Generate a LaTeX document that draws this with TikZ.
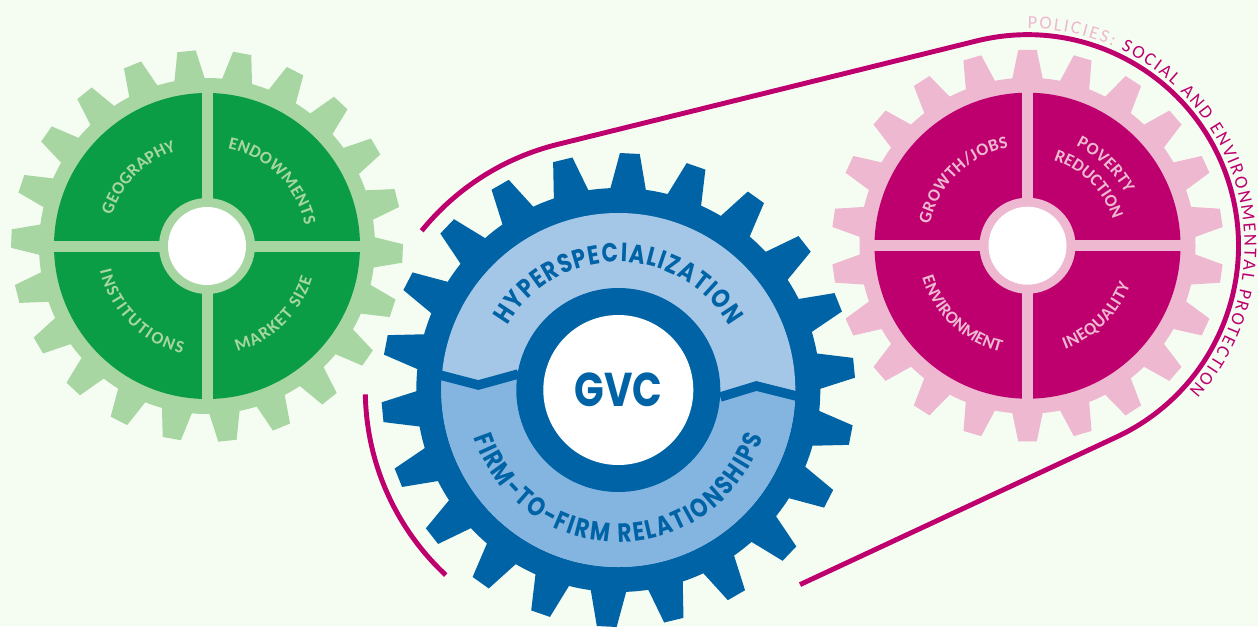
\documentclass[tikz,border=0pt]{standalone}
\usepackage{fontspec}
\usetikzlibrary{calc,decorations.text}

\newfontfamily\cogfont{Carlito}
\newfontfamily\gvcfont{Poppins}[FakeStretch=0.82]

\definecolor{paper}{HTML}{F5FDF2}
\definecolor{greenlight}{HTML}{A8D6A3}
\definecolor{greendark}{HTML}{0B9D45}
\definecolor{pinklight}{HTML}{EDB8D0}
\definecolor{pinkdark}{HTML}{BE006F}
\definecolor{beltred}{HTML}{BE006F}
\definecolor{bluedark}{HTML}{0063A6}
\definecolor{bluetop}{HTML}{A4C7E8}
\definecolor{bluelow}{HTML}{84B5E0}

\tikzset{
	belt/.style={draw=beltred, line width=2.8pt},
	cogtext/.style={decorate, decoration={text along path, text align=fit to path, text={#1}}},
}

\newcommand{\greenlabel}{\cogfont\bfseries\fontsize{10}{12}\selectfont\color{greenlight}}
\newcommand{\pinklabel}{\cogfont\bfseries\fontsize{10}{12}\selectfont\color{pinklight}}
\newcommand{\bluelabel}{\gvcfont\bfseries\fontsize{15}{17}\selectfont\color{bluedark}}
\newcommand{\beltlabel}{\cogfont\fontsize{10.5}{12}\selectfont}

\newcommand{\cogteeth}[5]{%
	\foreach \k in {0,...,21}{
		\pgfmathsetmacro{\toothangle}{#1+\k*360/22}
		\fill ({\toothangle-#4}:#2) -- ({\toothangle-#5}:#3) -- ({\toothangle+#5}:#3) -- ({\toothangle+#4}:#2) -- cycle;
	}
}

\begin{document}
\begin{tikzpicture}[x=0.02cm, y=0.02cm]

	\fill[paper] (0,0) rectangle (1258,-626);
	\useasboundingbox (0,0) rectangle (1258,-626);

	\coordinate (green) at (207,-246);
	\coordinate (pink) at (1027.5,-245.7);
	\coordinate (blue) at (618.3,-390);
	\coordinate (beltend) at (800,-584.6);

	\draw[belt] ($(blue)+(181:253)$) arc[start angle=181, end angle=227, radius=253];
	\draw[belt] ($(blue)+(141:253)$) arc[start angle=141, end angle=104, radius=253]
		-- ($(pink)+(104:211)$) arc[start angle=104, end angle=-65.2, radius=211] -- (beltend);

	\path[cogtext={|\beltlabel\color{pinklight}|POLICIES: |\beltlabel\color{beltred}|SOCIAL AND ENVIRONMENTAL PROTECTION}]
		($(pink)+(90:217)$) arc[start angle=90, end angle=-42, radius=217];

	\begin{scope}[shift={(green)}, fill=greenlight]
		\fill (0,0) circle (168);
		\cogteeth{96}{165}{196}{5.5}{2.7}
		\fill[greendark] (0,0) circle (153);
		\fill (-155,-5.5) rectangle (155,5.5);
		\fill (-5.5,-155) rectangle (5.5,155);
		\fill (0,0) circle (48);
		\fill[white] (0,0) circle (39);
		\path[cogtext={|\greenlabel|GEOGRAPHY}] (162:100) arc[start angle=162, end angle=108, radius=100];
		\path[cogtext={|\greenlabel|ENDOWMENTS}] (78:100) arc[start angle=78, end angle=12, radius=100];
		\path[cogtext={|\greenlabel|INSTITUTIONS}] (193:110) arc[start angle=193, end angle=257, radius=110];
		\path[cogtext={|\greenlabel|MARKET SIZE}] (286:110) arc[start angle=286, end angle=343, radius=110];
	\end{scope}

	\begin{scope}[shift={(pink)}, fill=pinklight]
		\fill (0,0) circle (168);
		\cogteeth{90}{165}{196}{5.5}{2.7}
		\fill[pinkdark] (0,0) circle (153);
		\fill (-155,-5.5) rectangle (155,5.5);
		\fill (-5.5,-155) rectangle (5.5,155);
		\fill (0,0) circle (48);
		\fill[white] (0,0) circle (39);
		\path[cogtext={|\pinklabel|GROWTH/JOBS}] (168:100) arc[start angle=168, end angle=101, radius=100];
		\path[cogtext={|\pinklabel|POVERTY}] (64:111) arc[start angle=64, end angle=28, radius=111];
		\path[cogtext={|\pinklabel|REDUCTION}] (73:89) arc[start angle=73, end angle=18, radius=89];
		\path[cogtext={|\pinklabel|ENVIRONMENT}] (197:110) arc[start angle=197, end angle=254, radius=110];
		\path[cogtext={|\pinklabel|INEQUALITY}] (290:110) arc[start angle=290, end angle=339, radius=110];
	\end{scope}

	\begin{scope}[shift={(blue)}, fill=bluedark]
		\fill (0,0) circle (202);
		\cogteeth{87.2}{198}{237}{5.4}{2.4}
		\fill[bluetop] (0,0) circle (177);
		\begin{scope}
			\clip (0,0) circle (177);
			\fill[bluelow] (-190,15) -- (-140,5) -- (-100,16) -- (102,-7) -- (138,4) -- (190,-7) -- (190,-190) -- (-190,-190) -- cycle;
		\end{scope}
		\draw[bluedark, line width=5.4pt] (-190,18) -- (-140,5) -- (-100,16);
		\draw[bluedark, line width=5.4pt] (102,-7) -- (138,4) -- (190,-9);
		\fill (0,0) circle (102);
		\fill[white] (0,0) circle (75);
		\path[cogtext={|\bluelabel|HYPERSPECIALIZATION}] (150:128) arc[start angle=150, end angle=30, radius=128];
		\path[cogtext={|\bluelabel|FIRM-TO-FIRM RELATIONSHIPS}] (198:152) arc[start angle=198, end angle=342, radius=152];
	\end{scope}

	\node[font=\gvcfont\bfseries\fontsize{27}{30}\selectfont, text=bluedark] (gvc) at (blue) {GVC};

\end{tikzpicture}
\end{document}
